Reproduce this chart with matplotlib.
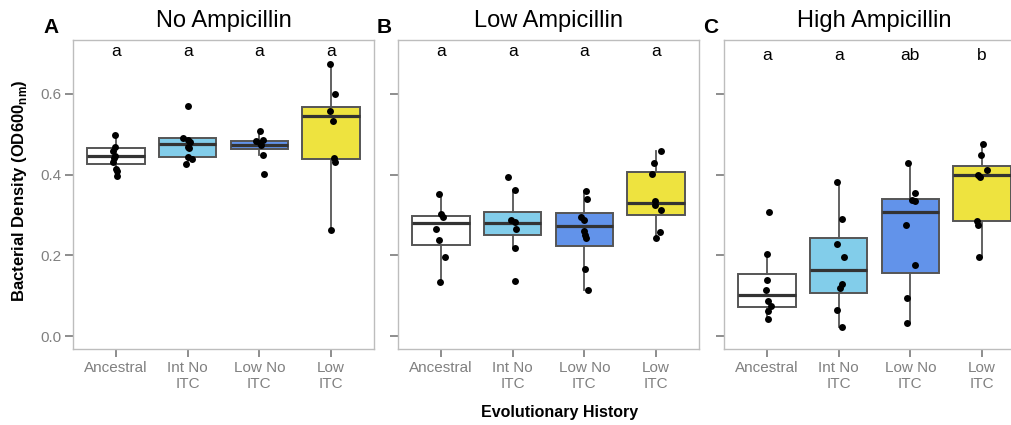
import matplotlib
matplotlib.use("Agg")
import matplotlib.pyplot as plt

plt.rcParams['font.family'] = ['Liberation Sans', 'DejaVu Sans']
plt.rcParams['mathtext.fontset'] = 'custom'
plt.rcParams['mathtext.rm'] = 'Liberation Sans'
plt.rcParams['mathtext.bf'] = 'Liberation Sans:bold'

# ---------------- data ----------------
categories = ["Ancestral", "Int No\nITC", "Low No\nITC", "Low\nITC"]
panel_titles = ["No Ampicillin", "Low Ampicillin", "High Ampicillin"]
panel_tags = ["A", "B", "C"]
box_colors = ["#FFFFFF", "#82CDEA", "#6293EA", "#EEE33F"]

# significance letters
letters_A = ["a", "a", "a", "a"]
letters_B = ["a", "a", "a", "a"]
letters_C = ["a", "a", "ab", "b"]

# box statistics: q1, median, q3, whisker low, whisker high (per category)
q1_A = [0.426, 0.443, 0.462, 0.439]
med_A = [0.446, 0.476, 0.472, 0.544]
q3_A = [0.466, 0.490, 0.482, 0.568]
lo_A = [0.397, 0.426, 0.449, 0.263]
hi_A = [0.498, 0.491, 0.507, 0.674]

q1_B = [0.226, 0.250, 0.224, 0.300]
med_B = [0.279, 0.281, 0.273, 0.330]
q3_B = [0.297, 0.306, 0.305, 0.405]
lo_B = [0.133, 0.218, 0.114, 0.243]
hi_B = [0.352, 0.361, 0.360, 0.459]

q1_C = [0.073, 0.106, 0.156, 0.284]
med_C = [0.102, 0.164, 0.306, 0.399]
q3_C = [0.154, 0.243, 0.340, 0.421]
lo_C = [0.043, 0.022, 0.032, 0.195]
hi_C = [0.203, 0.381, 0.428, 0.476]

# individual replicate points (values) and their horizontal jitter
pts_A = [
    [0.498, 0.469, 0.459, 0.446, 0.441, 0.430, 0.414, 0.408, 0.397],
    [0.569, 0.491, 0.486, 0.481, 0.469, 0.466, 0.443, 0.439, 0.426],
    [0.507, 0.486, 0.482, 0.477, 0.472, 0.449, 0.401],
    [0.674, 0.599, 0.558, 0.533, 0.441, 0.430, 0.263],
]
jit_A = [
    [-0.01, -0.02, -0.04, -0.01, -0.03, -0.04, 0.00, 0.02, 0.02],
    [0.00, -0.06, 0.00, 0.03, 0.00, 0.02, 0.01, 0.06, -0.03],
    [0.01, 0.05, -0.04, 0.01, 0.03, 0.05, 0.06],
    [-0.02, 0.05, -0.01, 0.03, 0.04, 0.05, 0.00],
]
pts_B = [
    [0.352, 0.301, 0.294, 0.265, 0.238, 0.195, 0.133],
    [0.395, 0.361, 0.288, 0.283, 0.264, 0.218, 0.137],
    [0.360, 0.340, 0.294, 0.288, 0.261, 0.251, 0.243, 0.166, 0.114],
    [0.459, 0.428, 0.401, 0.335, 0.325, 0.313, 0.257, 0.243],
]
jit_B = [
    [-0.03, 0.00, 0.03, -0.07, -0.03, 0.05, -0.01],
    [-0.07, 0.03, -0.02, 0.03, 0.04, 0.03, 0.03],
    [0.03, 0.04, -0.04, -0.01, 0.00, 0.01, 0.03, 0.01, 0.05],
    [0.07, -0.03, -0.05, -0.02, -0.01, 0.07, 0.06, 0.00],
]
pts_C = [
    [0.306, 0.203, 0.139, 0.114, 0.086, 0.075, 0.061, 0.043],
    [0.381, 0.290, 0.228, 0.197, 0.129, 0.119, 0.065, 0.022],
    [0.428, 0.355, 0.337, 0.335, 0.275, 0.176, 0.095, 0.032],
    [0.476, 0.448, 0.411, 0.400, 0.395, 0.286, 0.274, 0.195],
]
jit_C = [
    [0.03, 0.00, 0.00, -0.01, 0.02, 0.06, 0.01, 0.02],
    [-0.02, 0.05, -0.03, 0.07, 0.05, 0.02, -0.03, 0.04],
    [-0.03, 0.07, 0.02, 0.06, -0.06, 0.06, -0.05, -0.04],
    [0.02, -0.01, 0.07, -0.05, -0.03, -0.07, -0.05, -0.04],
]

yticks = [0.0, 0.2, 0.4, 0.6]
ytick_labels = ["0.0", "0.2", "0.4", "0.6"]

panels = [
    (q1_A, med_A, q3_A, lo_A, hi_A, pts_A, jit_A, letters_A),
    (q1_B, med_B, q3_B, lo_B, hi_B, pts_B, jit_B, letters_B),
    (q1_C, med_C, q3_C, lo_C, hi_C, pts_C, jit_C, letters_C),
]
letter_y = [0.694, 0.694, 0.684]

# ---------------- figure ----------------
W, H = 1011, 425
fig = plt.figure(figsize=(W / 100, H / 100), dpi=100)

ax_left_px = [73, 398, 724]
ax_w_px = 301
ax_top_px, ax_bot_px = 40, 349

spine_col = "#BDBDBD"
tick_col = "#7A7A7A"
edge_col = "#555555"

for i, (q1, med, q3, lo, hi, pts, jit, letters) in enumerate(panels):
    ax = fig.add_axes([ax_left_px[i] / W, 1 - ax_bot_px / H,
                       ax_w_px / W, (ax_bot_px - ax_top_px) / H])
    positions = list(range(1, len(categories) + 1))
    stats = []
    for k in range(len(categories)):
        stats.append(dict(q1=q1[k], med=med[k], q3=q3[k],
                          whislo=lo[k], whishi=hi[k], label=categories[k]))
    bp = ax.bxp(stats, positions=positions, widths=0.8, patch_artist=True,
                showcaps=False, showfliers=False,
                boxprops=dict(edgecolor=edge_col, linewidth=1.4),
                whiskerprops=dict(color=edge_col, linewidth=1.3),
                medianprops=dict(color="#333333", linewidth=2.3))
    for patch, c in zip(bp["boxes"], box_colors):
        patch.set_facecolor(c)
    for k, p in enumerate(positions):
        xs = [p + d for d in jit[k]]
        ax.scatter(xs, pts[k], s=25, color="black", zorder=5, linewidths=0)
        ax.text(p, letter_y[i], letters[k], ha="center", va="baseline",
                fontsize=12.5, color="black")

    ax.set_xlim(0.4, 4.6)
    ax.set_ylim(-0.032, 0.733)
    ax.set_xticks(positions)
    ax.set_xticklabels(categories, fontsize=11, color="#808080", linespacing=1.15)
    ax.set_yticks(yticks)
    if i == 0:
        ax.set_yticklabels(ytick_labels, fontsize=11, color="#808080")
    else:
        ax.set_yticklabels([])
    ax.tick_params(axis="both", length=6, width=1.2, color=tick_col, pad=2)
    ax.tick_params(axis="x", pad=3)
    for s in ax.spines.values():
        s.set_color(spine_col)
        s.set_linewidth(1.0)
    ax.set_facecolor("white")

    cx = (ax_left_px[i] + ax_w_px / 2) / W
    fig.text(cx, 1 - 27 / H, panel_titles[i], ha="center", va="baseline", fontsize=17)

tag_x = [43, 377, 703]
for i, t in enumerate(panel_tags):
    fig.text(tag_x[i] / W, 1 - 33 / H, t, ha="left", va="baseline",
             fontsize=15, fontweight="bold")

fig.text(20 / W, 1 - 191 / H, r"Bacterial Density (OD600$_{\mathbf{nm}}$)",
         rotation=90, ha="center", va="center", fontsize=12, fontweight="bold")
fig.text(560 / W, 1 - 417 / H, "Evolutionary History", ha="center",
         va="baseline", fontsize=11.5, fontweight="bold")

fig.savefig("out.png", dpi=100)
